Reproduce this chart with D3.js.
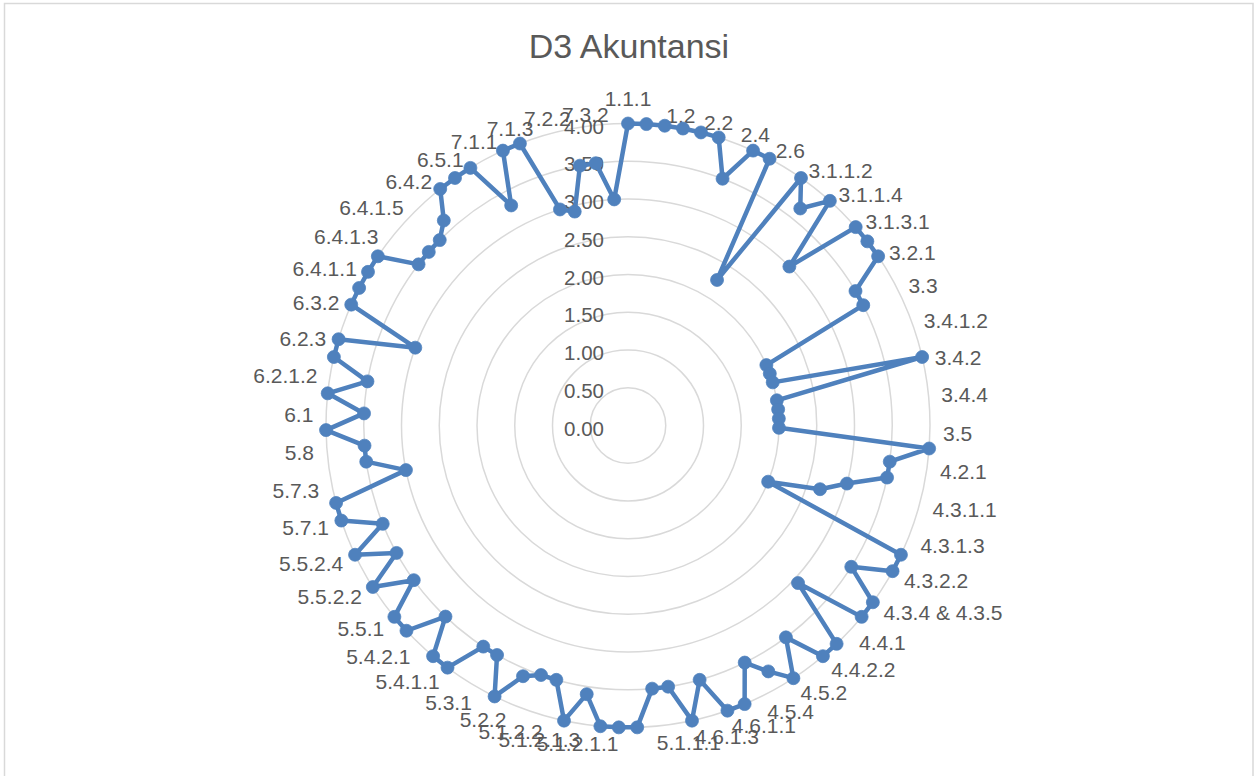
<!DOCTYPE html>
<html>
<head>
<meta charset="utf-8">
<script src="https://cdn.jsdelivr.net/npm/d3@7/dist/d3.min.js"></script>
<style>
  html, body { margin: 0; padding: 0; background: #ffffff; }
  svg { display: block; }
</style>
</head>
<body>
<svg id="chart" width="1255" height="776"></svg>
<script>
const chartTitle = "D3 Akuntansi";

const categories = [
  "1.1.1","1.1.2","1.2","2.1","2.2","2.3","2.4","2.5","2.6","3.1.1.1",
  "3.1.1.2","3.1.1.3","3.1.1.4","3.1.2","3.1.3.1","3.1.3.2","3.2.1","3.2.2","3.3","3.4.1.1",
  "3.4.1.2","3.4.1.3","3.4.2","3.4.3","3.4.4","3.4.5","3.5","4.1","4.2.1","4.2.2",
  "4.3.1.1","4.3.1.2","4.3.1.3","4.3.2.1","4.3.2.2","4.3.3","4.3.4 & 4.3.5","4.3.6","4.4.1","4.4.2.1",
  "4.4.2.2","4.5.1","4.5.2","4.5.3","4.5.4","4.5.5","4.6.1.1","4.6.1.2","4.6.1.3","4.6.2",
  "5.1.1.1","5.1.1.2","5.1.2.1.1","5.1.2.1.2","5.1.2.1.3","5.1.2.1.4","5.1.2.2","5.2.1","5.2.2","5.2.3",
  "5.3.1","5.3.2","5.4.1.1","5.4.1.2","5.4.2.1","5.4.2.2","5.5.1","5.5.2.1","5.5.2.2","5.5.2.3",
  "5.5.2.4","5.6","5.7.1","5.7.2","5.7.3","5.7.4","5.8","5.9","6.1","6.2.1.1",
  "6.2.1.2","6.2.2","6.2.3","6.3.1","6.3.2","6.3.3","6.4.1.1","6.4.1.2","6.4.1.3","6.4.1.4",
  "6.4.1.5","6.4.1.6","6.4.2","6.4.3","6.5.1","6.5.2","7.1.1","7.1.2","7.1.3","7.2.1",
  "7.2.2","7.3.1","7.3.2"
];

const values = [
  4.0, 4.0, 4.0, 4.0, 4.0, 4.0, 3.5, 4.0, 4.0, 2.26,
  4.0, 3.67, 4.0, 3.0, 4.0, 4.0, 4.0, 3.5, 3.5, 2.0,
  2.0, 2.0, 4.0, 2.0, 2.0, 2.0, 2.0, 4.0, 3.5, 3.5,
  3.0, 2.68, 2.0, 4.0, 4.0, 3.5, 4.0, 4.0, 3.07, 4.0,
  4.0, 3.5, 4.0, 3.75, 3.5, 4.0, 4.0, 3.5, 4.0, 3.5,
  3.5, 4.0, 4.0, 4.0, 3.6, 4.0, 3.5, 3.5, 3.6, 4.0,
  3.5, 3.5, 4.0, 4.0, 3.5, 4.0, 4.0, 3.5, 4.0, 3.5,
  4.0, 3.5, 4.0, 4.0, 3.0, 3.5, 3.5, 4.0, 3.5, 4.0,
  3.5, 4.0, 4.0, 3.0, 4.0, 4.0, 4.0, 4.0, 3.5, 3.5,
  3.5, 3.65, 4.0, 4.0, 4.0, 3.3, 4.0, 4.0, 3.0, 2.92,
  3.5, 3.5, 3.0
];

const tickValues = [0, 0.5, 1.0, 1.5, 2.0, 2.5, 3.0, 3.5, 4.0];

// ---- layout ----
const W = 1255, H = 776;
const cx = 628, cy = 425.5, R = 302;
const textColor = "#595959";
const gridColor = "#d9d9d9";
const seriesColor = "#4f81bd";
const fontFamily = "'Liberation Sans', Arial, sans-serif";

const svg = d3.select("#chart");

// chart border
svg.append("rect")
  .attr("x", 4.5).attr("y", 3.5)
  .attr("width", 1248.5).attr("height", 820)
  .attr("fill", "#ffffff")
  .attr("stroke", gridColor).attr("stroke-width", 1.5);

// title
svg.append("text")
  .attr("x", 629).attr("y", 58)
  .attr("text-anchor", "middle")
  .attr("font-family", fontFamily)
  .attr("font-size", 34)
  .attr("fill", textColor)
  .text(chartTitle);

const N = categories.length;
const angle = d3.scaleLinear().domain([0, N]).range([0, 2 * Math.PI]);
const r = d3.scaleLinear().domain([0, 4]).range([0, R]);

const g = svg.append("g").attr("transform", `translate(${cx},${cy})`);

// grid circles
g.append("g").selectAll("circle")
  .data(tickValues.filter(v => v > 0))
  .join("circle")
  .attr("r", d => r(d))
  .attr("fill", "none")
  .attr("stroke", gridColor)
  .attr("stroke-width", 1.5);

// value axis labels
const fmt = d3.format(".2f");
g.append("g").selectAll("text")
  .data(tickValues)
  .join("text")
  .attr("x", -24)
  .attr("y", d => -r(d) + 2.5)
  .attr("text-anchor", "end")
  .attr("dominant-baseline", "central")
  .attr("font-family", fontFamily)
  .attr("font-size", 20.5)
  .attr("fill", textColor)
  .text(d => fmt(d));

// category labels (every other one, as in the reference)
const labelR = R + 13;
g.append("g").selectAll("text")
  .data(categories.map((c, i) => ({ c, i })).filter(d => d.i % 2 === 0))
  .join("text")
  .each(function(d) {
    const a = angle(d.i);
    const s = Math.sin(a), co = Math.cos(a);
    let x = labelR * s;
    let y = -labelR * co + 3;
    let anchor = s > 0.01 ? "start" : (s < -0.01 ? "end" : "middle");
    if (d.i === 0) y -= 15;
    d3.select(this)
      .attr("x", x).attr("y", y)
      .attr("text-anchor", anchor);
  })
  .attr("dominant-baseline", "central")
  .attr("font-family", fontFamily)
  .attr("font-size", 21)
  .attr("fill", textColor)
  .text(d => d.c);

// series line
const line = d3.lineRadial()
  .angle((d, i) => angle(i))
  .radius(d => r(d))
  .curve(d3.curveLinearClosed);

g.append("path")
  .datum(values)
  .attr("d", line)
  .attr("fill", "none")
  .attr("stroke", seriesColor)
  .attr("stroke-width", 4.5)
  .attr("stroke-linejoin", "round");

// markers
g.append("g").selectAll("circle")
  .data(values)
  .join("circle")
  .attr("cx", (d, i) => r(d) * Math.sin(angle(i)))
  .attr("cy", (d, i) => -r(d) * Math.cos(angle(i)))
  .attr("r", 6.5)
  .attr("fill", seriesColor)
  .attr("stroke", seriesColor)
  .attr("stroke-width", 0.75);
</script>
</body>
</html>
